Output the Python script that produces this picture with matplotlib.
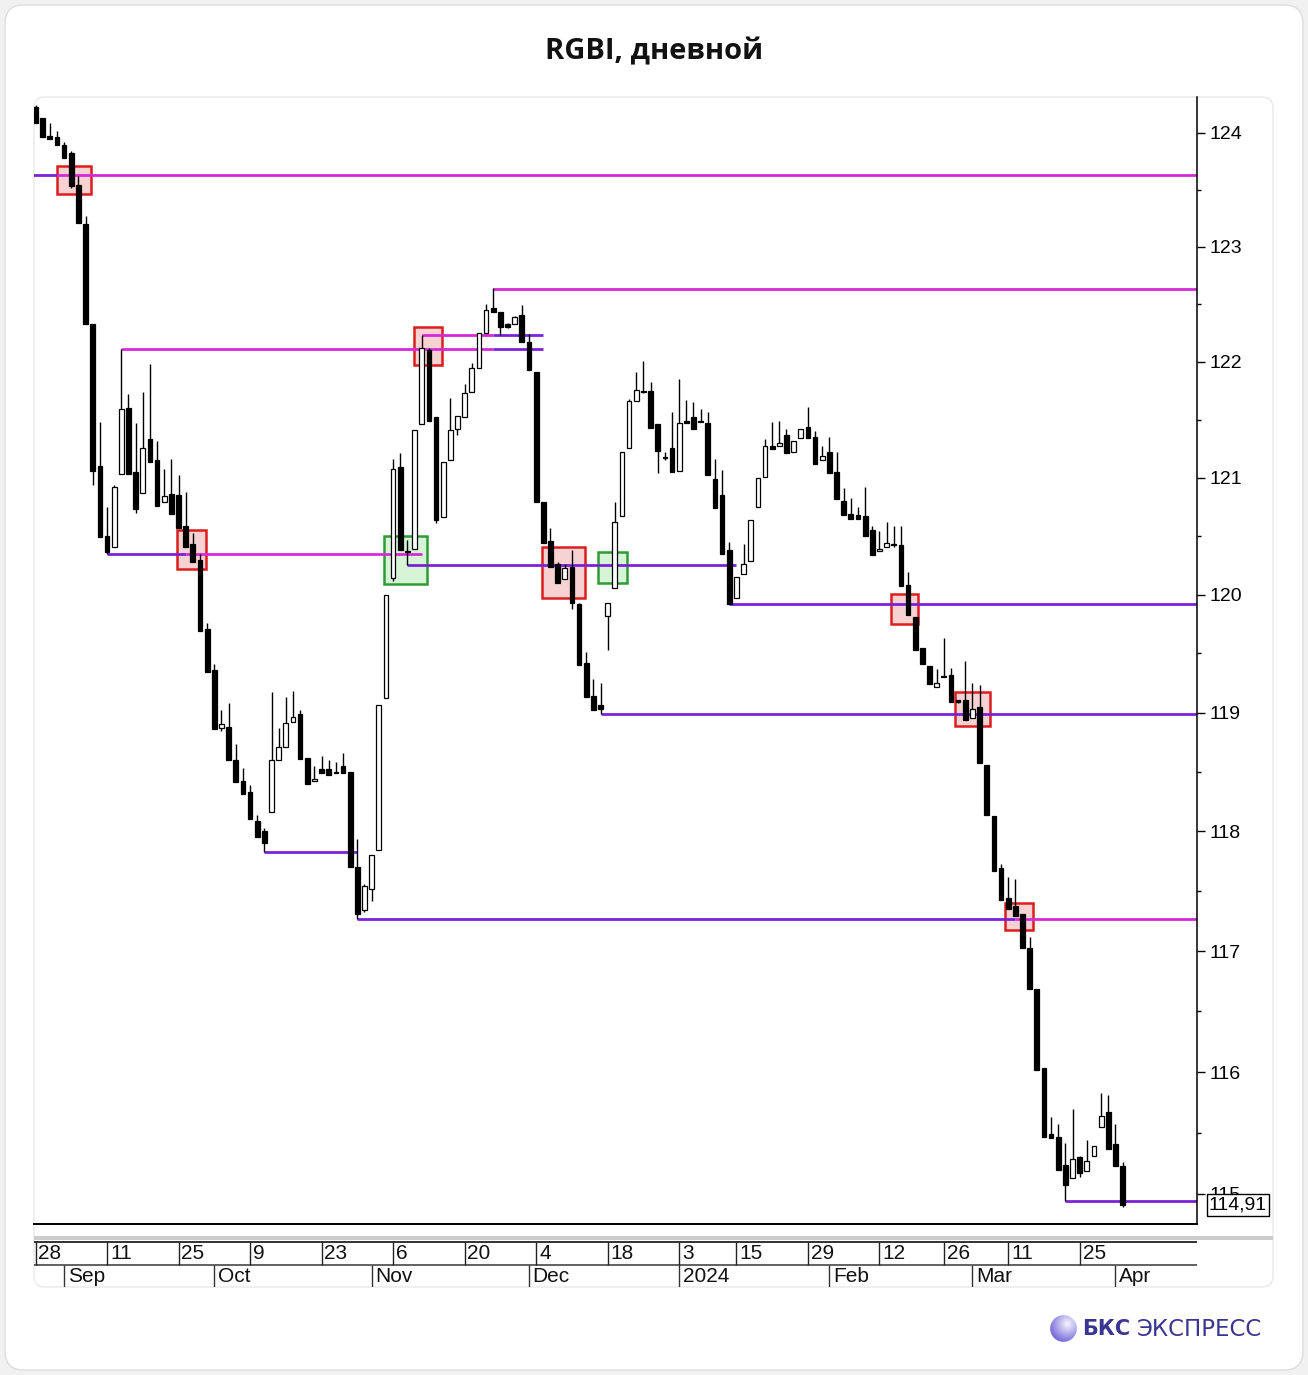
import numpy as np
import pandas as pd
import matplotlib
matplotlib.use("Agg")
import matplotlib.pyplot as plt
from matplotlib.patches import Rectangle, FancyBboxPatch
from matplotlib.ticker import FixedLocator, NullFormatter, FuncFormatter
import matplotlib.transforms as mtransforms

plt.rcParams['font.family'] = ['Liberation Sans', 'DejaVu Sans']

# ---------------- data ----------------
holidays = ['2024-01-01', '2024-01-02', '2024-02-23', '2024-03-08']
start_date, end_date = '2023-08-28', '2024-04-02'

opens = [124.23, 124.13, 123.97, 123.96, 123.89, 123.82, 123.54, 123.20, 122.33, 121.10,
         120.50, 120.41, 121.03, 121.60, 121.05, 120.87, 121.33, 121.15, 120.79, 120.86,
         120.85, 120.59, 120.43, 120.30, 119.71, 119.36, 118.87, 118.88, 118.60, 118.42,
         118.33, 118.09, 118.00, 118.16, 118.60, 118.71, 118.92, 118.99, 118.62, 118.42,
         118.52, 118.52, 118.50, 118.55, 118.50, 117.70, 117.34, 117.52, 117.84, 119.12,
         120.14, 121.09, 120.37, 120.39, 121.46, 122.10, 121.52, 120.66, 121.15, 121.42,
         121.52, 121.74, 121.95, 122.25, 122.47, 122.43, 122.33, 122.33, 122.41, 122.17,
         121.91, 120.79, 120.46, 120.26, 120.13, 120.24, 119.92, 119.42, 119.14, 119.06,
         119.82, 120.06, 120.67, 121.26, 121.66, 121.75, 121.75, 121.46, 121.18, 121.26,
         121.06, 121.49, 121.52, 121.49, 121.47, 120.99, 120.85, 120.38, 119.97, 120.18,
         120.29, 120.75, 121.01, 121.27, 121.27, 121.37, 121.22, 121.34, 121.44, 121.35,
         121.15, 121.22, 121.05, 120.80, 120.69, 120.68, 120.67, 120.55, 120.37, 120.41,
         120.43, 120.42, 120.08, 119.81, 119.55, 119.39, 119.22, 119.31, 119.32, 119.10,
         119.11, 118.95, 119.05, 118.56, 118.13, 117.69, 117.44, 117.38, 117.31, 117.03,
         116.69, 116.03, 115.49, 115.47, 115.24, 115.13, 115.30, 115.19, 115.31, 115.55,
         115.67, 115.41, 115.23]
highs = [124.25, 124.13, 124.09, 124.02, 123.92, 123.84, 123.62, 123.27, 122.33, 121.48,
         120.75, 120.94, 122.11, 121.72, 121.47, 121.74, 121.98, 121.32, 121.08, 121.16,
         121.02, 120.88, 120.53, 120.35, 119.76, 119.41, 119.02, 119.08, 118.73, 118.53,
         118.39, 118.14, 118.03, 119.17, 118.87, 119.13, 119.18, 119.02, 118.62, 118.55,
         118.63, 118.60, 118.58, 118.66, 118.50, 117.94, 117.56, 117.80, 119.06, 120.00,
         121.16, 121.21, 120.47, 121.41, 122.23, 122.12, 121.52, 121.14, 121.69, 121.53,
         121.81, 121.99, 122.25, 122.50, 122.64, 122.43, 122.34, 122.40, 122.49, 122.24,
         121.91, 120.79, 120.57, 120.28, 120.26, 120.38, 119.93, 119.51, 119.28, 119.25,
         119.93, 120.79, 121.22, 121.68, 121.91, 122.01, 121.83, 121.46, 121.22, 121.57,
         121.85, 121.67, 121.65, 121.59, 121.57, 121.16, 121.07, 120.45, 120.15, 120.43,
         120.64, 121.00, 121.33, 121.48, 121.49, 121.42, 121.32, 121.42, 121.61, 121.40,
         121.27, 121.35, 121.22, 120.91, 120.83, 120.75, 120.92, 120.59, 120.54, 120.62,
         120.59, 120.59, 120.19, 119.81, 119.55, 119.39, 119.37, 119.63, 119.38, 119.10,
         119.44, 119.25, 119.23, 118.56, 118.13, 117.73, 117.62, 117.60, 117.31, 117.12,
         116.69, 116.03, 115.63, 115.57, 115.42, 115.70, 115.31, 115.44, 115.39, 115.83,
         115.81, 115.57, 115.26]
lows = [124.09, 123.96, 123.95, 123.89, 123.78, 123.52, 123.21, 122.33, 120.94, 120.49,
        120.35, 120.41, 121.03, 121.03, 120.70, 120.87, 121.14, 120.76, 120.79, 120.69,
        120.57, 120.41, 120.28, 119.69, 119.34, 118.86, 118.84, 118.60, 118.41, 118.31,
        118.10, 117.95, 117.83, 118.16, 118.60, 118.71, 118.92, 118.61, 118.40, 118.42,
        118.49, 118.47, 118.49, 118.49, 117.70, 117.27, 117.33, 117.42, 117.84, 119.12,
        120.12, 120.38, 120.25, 120.39, 121.46, 121.49, 120.61, 120.66, 121.15, 121.37,
        121.52, 121.74, 121.95, 122.25, 122.43, 122.23, 122.29, 122.33, 122.17, 121.93,
        120.79, 120.44, 120.24, 120.10, 120.13, 119.88, 119.40, 119.13, 119.02, 118.99,
        119.53, 120.06, 120.67, 121.26, 121.66, 121.73, 121.43, 121.04, 121.15, 121.05,
        121.06, 121.47, 121.42, 121.48, 121.02, 120.74, 120.35, 119.92, 119.97, 120.18,
        120.29, 120.75, 121.01, 121.25, 121.27, 121.21, 121.22, 121.34, 121.34, 121.12,
        121.15, 121.04, 120.82, 120.68, 120.65, 120.65, 120.50, 120.34, 120.37, 120.41,
        120.41, 120.07, 119.83, 119.53, 119.41, 119.24, 119.22, 119.30, 119.09, 119.08,
        118.94, 118.95, 118.57, 118.14, 117.67, 117.43, 117.35, 117.29, 117.03, 116.69,
        116.02, 115.47, 115.46, 115.20, 114.94, 115.13, 115.14, 115.19, 115.31, 115.55,
        115.37, 115.23, 114.89]
closes = [124.09, 123.96, 123.95, 123.89, 123.78, 123.53, 123.21, 122.33, 121.06, 120.49,
          120.36, 120.92, 121.59, 121.03, 120.73, 121.26, 121.14, 120.76, 120.84, 120.69,
          120.57, 120.41, 120.28, 119.69, 119.34, 118.86, 118.90, 118.60, 118.41, 118.31,
          118.10, 117.95, 117.90, 118.60, 118.71, 118.91, 118.96, 118.61, 118.40, 118.44,
          118.49, 118.47, 118.49, 118.49, 117.70, 117.31, 117.54, 117.80, 119.06, 120.00,
          121.08, 120.38, 120.36, 121.41, 122.12, 121.49, 120.64, 121.14, 121.41, 121.53,
          121.73, 121.95, 122.25, 122.45, 122.43, 122.30, 122.30, 122.39, 122.17, 121.93,
          120.79, 120.44, 120.24, 120.10, 120.23, 119.93, 119.40, 119.13, 119.02, 119.03,
          119.93, 120.62, 121.22, 121.66, 121.76, 121.74, 121.43, 121.23, 121.17, 121.05,
          121.47, 121.47, 121.42, 121.48, 121.02, 120.74, 120.35, 119.92, 120.15, 120.26,
          120.64, 121.00, 121.27, 121.25, 121.30, 121.21, 121.32, 121.42, 121.34, 121.12,
          121.19, 121.04, 120.82, 120.68, 120.65, 120.65, 120.50, 120.34, 120.39, 120.44,
          120.42, 120.07, 119.83, 119.53, 119.41, 119.24, 119.25, 119.30, 119.09, 119.09,
          118.94, 119.03, 118.57, 118.14, 117.67, 117.43, 117.35, 117.29, 117.03, 116.69,
          116.02, 115.47, 115.46, 115.20, 115.07, 115.29, 115.17, 115.27, 115.39, 115.64,
          115.37, 115.23, 114.91]

# horizontal levels: price, start index, end index (None = to the price axis), colour kind
seg_price = [123.63, 123.63, 122.63, 122.11, 122.11, 122.23, 122.23, 120.35, 120.35,
             120.25, 119.92, 118.99, 117.83, 117.27, 117.27, 114.94]
seg_start = [-0.3, 3, 64, 12, 64, 54, 64, 10, 21, 52, 97, 79, 32, 45, 137, 144]
seg_end = [3, None, None, 64, 71, 64, 71, 21, 54, 98, None, None, 45, 137, None, None]
seg_kind = ['p', 'm', 'm', 'm', 'p', 'm', 'p', 'p', 'm', 'p', 'p', 'p', 'p', 'p', 'm', 'p']

# highlighted zones: start index, end index, low price, high price, kind
box_x0 = [3.0, 19.8, 52.9, 70.8, 119.6, 128.6, 135.6, 48.7, 78.7]
box_x1 = [7.8, 23.8, 56.9, 76.9, 123.4, 133.5, 139.5, 54.8, 82.7]
box_lo = [123.46, 120.22, 121.97, 119.97, 119.75, 118.89, 117.18, 120.09, 120.10]
box_hi = [123.71, 120.55, 122.30, 120.41, 120.01, 119.17, 117.40, 120.50, 120.36]
box_kind = ['r', 'r', 'r', 'r', 'r', 'r', 'r', 'g', 'g']

y_major = [115, 116, 117, 118, 119, 120, 121, 122, 123, 124]
last_label = '114,91'
month_names = {1: '2024', 2: 'Feb', 3: 'Mar', 4: 'Apr', 9: 'Sep', 10: 'Oct', 11: 'Nov', 12: 'Dec'}

# ---------------- dates ----------------
dates = pd.bdate_range(start_date, end_date)
dates = dates[~dates.isin(pd.to_datetime(holidays))]
n = len(dates)
x = np.arange(n)

# biweekly labels and month labels
t0 = pd.Timestamp(start_date)
week_idx, week_lbl = [], []
prev_block = None
for i, d in enumerate(dates):
    blk = ((d - t0).days // 7) // 2
    if blk != prev_block:
        week_idx.append(i)
        week_lbl.append(str(d.day))
        prev_block = blk
month_idx, month_lbl = [], []
prev_m = dates[0].month
for i, d in enumerate(dates):
    if d.month != prev_m:
        month_idx.append(i)
        month_lbl.append(month_names[d.month])
        prev_m = d.month

# ---------------- figure ----------------
W, H = 1308, 1375
fig = plt.figure(figsize=(W / 100, H / 100), dpi=100)
fig.patch.set_facecolor('#f1f1f1')


def fx(px):
    return px / W


def fy(py):
    return 1 - py / H


card = FancyBboxPatch((fx(5), fy(1370)), fx(1303) - fx(5), fy(5) - fy(1370),
                      boxstyle='round,pad=0,rounding_size=0.014', transform=fig.transFigure,
                      facecolor='white', edgecolor='#dddddd', lw=1.0, zorder=-3)
fig.add_artist(card)
panel = FancyBboxPatch((fx(34), fy(1287)), fx(1273) - fx(34), fy(97) - fy(1287),
                       boxstyle='round,pad=0,rounding_size=0.008', transform=fig.transFigure,
                       facecolor='white', edgecolor='#e9e9e9', lw=1.0, zorder=-2)
fig.add_artist(panel)

fig.text(0.5, fy(52), 'RGBI, дневной', ha='center', va='center', fontsize=21,
         fontweight='bold', family=['Open Sans', 'DejaVu Sans'], color='#111111')

XMIN, XMAX = -0.21, 162.4
ax = fig.add_axes([fx(34), fy(1224), (1197 - 34) / W, (1224 - 97) / H])
ax.set_facecolor('none')
ax.set_yscale('log')
ax.set_xlim(XMIN, XMAX)
ax.set_ylim(114.755, 124.317)

MAG, PUR = '#d62ad6', '#7a22d8'
for p, s, e, k in zip(seg_price, seg_start, seg_end, seg_kind):
    ax.hlines(p, s, XMAX if e is None else e, color=MAG if k == 'm' else PUR,
              lw=2.0, zorder=2.5)

for x0, x1, lo, hi, k in zip(box_x0, box_x1, box_lo, box_hi, box_kind):
    if k == 'r':
        fc, ec = '#f7d2d2', '#dc1e1e'
    else:
        fc, ec = '#d6f5d6', '#2f9a37'
    ax.add_patch(Rectangle((x0, lo), x1 - x0, hi - lo, facecolor=fc, edgecolor=ec,
                           lw=1.8, zorder=2))

o = np.array(opens)
h = np.array(highs)
lo_ = np.array(lows)
c = np.array(closes)
up = c >= o
ax.vlines(x, lo_, h, color='black', lw=1.0, zorder=3)
bottom = np.minimum(o, c)
height = np.maximum(np.abs(c - o), 0.012)
ax.bar(x[up], height[up], bottom=bottom[up], width=0.66, facecolor='white',
       edgecolor='black', linewidth=0.9, zorder=4)
ax.bar(x[~up], height[~up], bottom=bottom[~up], width=0.66, facecolor='black',
       edgecolor='black', linewidth=0.9, zorder=4)

for sp in ['top', 'left']:
    ax.spines[sp].set_visible(False)
ax.spines['right'].set_linewidth(1.1)
ax.spines['bottom'].set_linewidth(1.4)
ax.set_xticks([])
ax.yaxis.set_major_locator(FixedLocator(y_major))
ax.yaxis.set_major_formatter(FuncFormatter(lambda v, p: f'{v:.0f}'))
ax.yaxis.set_minor_locator(FixedLocator([v + 0.5 for v in y_major[:-1]] + [124.5]))
ax.yaxis.set_minor_formatter(NullFormatter())
ax.tick_params(axis='y', which='both', left=False, labelleft=False, right=True,
               labelright=True, direction='out')
ax.tick_params(axis='y', which='major', length=6, width=1, pad=3, labelsize=14)
ax.tick_params(axis='y', which='minor', length=3, width=1)

blend = mtransforms.blended_transform_factory(ax.transAxes, ax.transData)
ax.text((1209 - 34) / 1163, closes[-1], last_label, transform=blend, ha='left',
        va='center', fontsize=14, zorder=10, clip_on=False,
        bbox=dict(boxstyle='square,pad=0.12', fc='white', ec='black', lw=1.0))

# ---------------- date axis ----------------
fig.add_artist(Rectangle((fx(34), fy(1240)), fx(1273) - fx(34), 4 / H,
                         transform=fig.transFigure, facecolor='#cccccc',
                         edgecolor='none', zorder=-1))
axd = fig.add_axes([fx(34), fy(1287), (1197 - 34) / W, (1287 - 1240) / H])
axd.set_xlim(XMIN, XMAX)
axd.set_ylim(1287, 1240)
axd.axis('off')
axd.hlines([1241.5], XMIN, XMAX, color='#222222', lw=1.3)
axd.hlines([1264.5], XMIN, XMAX, color='#555555', lw=1.3)
axd.vlines(week_idx, 1241.5, 1264.5, color='#222222', lw=1.0)
axd.vlines(month_idx, 1264.5, 1287, color='#333333', lw=1.0)
for i, t in zip(week_idx, week_lbl):
    axd.text(i + 0.4, 1253.5, t, ha='left', va='center', fontsize=15, color='#111111')
for i, t in zip(month_idx, month_lbl):
    axd.text(i + 0.5, 1277, t, ha='left', va='center', fontsize=15, color='#111111')

# ---------------- logo ----------------
lax = fig.add_axes([fx(1050), fy(1342), 27 / W, 27 / H])
g = np.linspace(-1, 1, 200)
X, Y = np.meshgrid(g, g)
R = np.sqrt(X ** 2 + Y ** 2)
d = np.sqrt((X - 0.3) ** 2 + (Y + 0.35) ** 2)
t = np.clip(d / 1.5, 0, 1)[..., None]
c1 = np.array([0.97, 0.96, 1.0])
c2 = np.array([0.42, 0.37, 0.84])
img = c1 * (1 - t) + c2 * t
alpha = np.clip((1 - R) * 60, 0, 1)
lax.imshow(np.dstack([img, alpha]), extent=(-1, 1, -1, 1), origin='upper')
lax.axis('off')
fig.text(fx(1082), fy(1329), 'БКС', ha='left', va='center', fontsize=15,
         fontweight='bold', color='#3b3592', family=['DejaVu Sans'])
fig.text(fx(1137), fy(1329), 'ЭКСПРЕСС', ha='left', va='center', fontsize=16.5,
         color='#3b3592', family=['DejaVu Sans'])

fig.savefig('out.png', dpi=100, facecolor=fig.get_facecolor())
